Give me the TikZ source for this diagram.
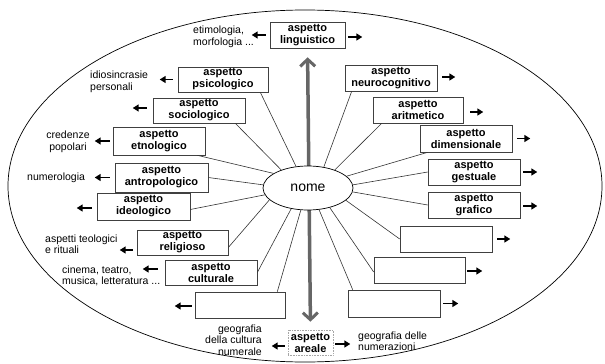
\documentclass[tikz,border=0pt]{standalone}
\usepackage{fontspec}
\setmainfont{Liberation Sans}
\usetikzlibrary{arrows.meta,shapes.geometric,calc}
\begin{document}
\begin{tikzpicture}[x=1pt,y=-1pt,
  box/.style={draw=black!75,line width=0.6pt,minimum width=92pt,minimum height=26pt,
    inner sep=0pt,align=center,font=\bfseries\fontsize{11}{12}\selectfont},
  lbl/.style={inner sep=0pt,align=left,font=\fontsize{10.5}{11.5}\selectfont},
  conn/.style={draw=black!80,line width=0.6pt},
  sarr/.style={line width=1.5pt,-{Triangle[length=6pt,width=7pt]}},
  bigarr/.style={line width=3.5pt,draw=black!60,
    {Straight Barb[length=7pt,width=15pt,line width=3pt]}-{Straight Barb[length=7pt,width=15pt,line width=3pt]}},
  nomestyle/.style={ellipse,draw,line width=0.7pt,fill=white,minimum width=90pt,minimum height=44pt,
    inner sep=0pt,font=\fontsize{14}{16}\selectfont}]
\useasboundingbox (0,0) rectangle (605,364);
\draw[line width=0.7pt] (305,186) ellipse [x radius=297pt, y radius=176pt];

% boxes left
\node[box,minimum width=75pt] (ling) at (307.5,35) {aspetto\\linguistico};
\node[box,minimum width=90pt,minimum height=25pt] (psi) at (223,79.5) {aspetto\\psicologico};
\node[box,minimum height=25pt] (soc) at (199,110.5) {aspetto\\sociologico};
\node[box,minimum height=28pt] (etn) at (159,141) {aspetto\\etnologico};
\node[box,minimum width=93pt,minimum height=29pt] (antr) at (161.5,177.5) {aspetto\\antropologico};
\node[box,minimum width=93pt,minimum height=27pt] (ideo) at (143.5,206.5) {aspetto\\ideologico};
\node[box,minimum width=91pt,minimum height=25pt] (rel) at (182.5,242.5) {aspetto\\religioso};
\node[box,minimum height=25pt] (cult) at (211,272.5) {aspetto\\culturale};
\node[box,minimum width=90pt] (e9) at (240,305) {};
\node[box,draw=black!35,densely dotted,minimum width=45pt,minimum height=25pt] (areale) at (310.5,342.5) {aspetto\\areale};
% boxes right
\node[box] (neuro) at (391,78) {aspetto\\neurocognitivo};
\node[box,minimum width=90pt] (arit) at (418,110) {aspetto\\aritmetico};
\node[box,minimum height=27pt] (dim) at (466,138.5) {aspetto\\dimensionale};
\node[box] (gest) at (474,172) {aspetto\\gestuale};
\node[box] (graf) at (474,205) {aspetto\\grafico};
\node[box] (e16) at (446,239) {};
\node[box,minimum width=91pt] (e17) at (419.5,270) {};
\node[box,minimum height=27pt] (e18) at (394,303.5) {};

% vertical double arrow
\draw[bigarr,shorten <=9pt,shorten >=8pt] (ling.south) -- (areale.north);

% central node
\node[nomestyle] (nome) at (308,188) {nome};

% connectors
\draw[conn] (nome.119) -- ([xshift=-8pt]psi.south east);
\draw[conn] (nome.146) -- ([xshift=-10pt]soc.south east);
\draw[conn] (nome.157) -- ([xshift=-8pt]etn.south east);
\draw[conn] (nome.176) -- (antr.east);
\draw[conn] (nome.189) -- ([yshift=-3pt]ideo.east);
\draw[conn] (nome.197) -- ([yshift=-5pt]rel.east);
\draw[conn] (nome.231) -- (cult.east);
\draw[conn] (nome.252) -- ([xshift=-8pt]e9.north east);
\draw[conn] (nome.297) -- ([xshift=5pt]e18.north west);
\draw[conn] (nome.318) -- ([yshift=-2pt]e17.west);
\draw[conn] (nome.342) -- (e16.west);
\draw[conn] (nome.355) -- (graf.west);
\draw[conn] (nome.4) -- (gest.west);
\draw[conn] (nome.17) -- ([xshift=8pt]dim.south west);
\draw[conn] (nome.34) -- ([xshift=9pt]arit.south west);
\draw[conn] (nome.53) -- ([xshift=7pt]neuro.south west);

% outer labels
\node[lbl,anchor=west] (etim) at (193,37) {etimologia,\\morfologia ...};
\node[lbl,anchor=west] (idio) at (90,82) {idiosincrasie\\personali};
\node[lbl,align=center] (cred) at (68,142) {credenze\\popolari};
\node[lbl,anchor=west] (numer) at (27,178) {numerologia};
\node[lbl,anchor=west] (teol) at (45,244) {aspetti teologici\\e rituali};
\node[lbl,anchor=west] (cine) at (62,276) {cinema, teatro,\\musica, letteratura ...};
\node[lbl,anchor=east,align=right] (geo1) at (262,340) {geografia\\della cultura\\numerale};
\node[lbl,anchor=west] (geo2) at (358,341) {geografia delle\\numerazioni};

% short arrows
\draw[sarr] ([xshift=3pt,yshift=-2pt]ling.east) -- ++(14,0);
\draw[sarr] ([xshift=-4pt]ling.west) -- ++(-14,0);
\draw[sarr] ([xshift=-5pt]psi.west) -- ++(-13,0);
\draw[sarr] ([xshift=-6pt,yshift=2.5pt]soc.west) -- ++(-14,0);
\draw[sarr] ([xshift=-3pt]etn.west) -- ++(-15,0);
\draw[sarr] ([xshift=-5pt]antr.west) -- ++(-15,0);
\draw[sarr] ([xshift=-5pt,yshift=-1.5pt]ideo.west) -- ++(-15,0);
\draw[sarr] ([xshift=-4pt,yshift=-7.5pt]rel.west) -- ++(-13,0);
\draw[sarr] ([xshift=-7pt,yshift=3.5pt]cult.west) -- ++(-15,0);
\draw[sarr] ([xshift=-3pt,yshift=-1pt]e9.west) -- ++(-17,0);
\draw[sarr] ([xshift=-3pt,yshift=-3.5pt]areale.west) -- ++(-13,0);
\draw[sarr] ([xshift=2pt,yshift=-1.5pt]areale.east) -- ++(15,0);
\draw[sarr] ([xshift=5pt,yshift=1pt]neuro.east) -- ++(13,0);
\draw[sarr] ([xshift=7pt,yshift=-2pt]arit.east) -- ++(13,0);
\draw[sarr] ([xshift=5pt]dim.east) -- ++(13,0);
\draw[sarr] ([xshift=3pt]gest.east) -- ++(14,0);
\draw[sarr] ([xshift=3pt,yshift=-1pt]graf.east) -- ++(14,0);
\draw[sarr] ([xshift=5pt]e16.east) -- ++(13,0);
\draw[sarr] ([xshift=2pt,yshift=-1pt]e17.east) -- ++(15,0);
\draw[sarr] ([xshift=3pt]e18.east) -- ++(15,0);
\end{tikzpicture}
\end{document}
